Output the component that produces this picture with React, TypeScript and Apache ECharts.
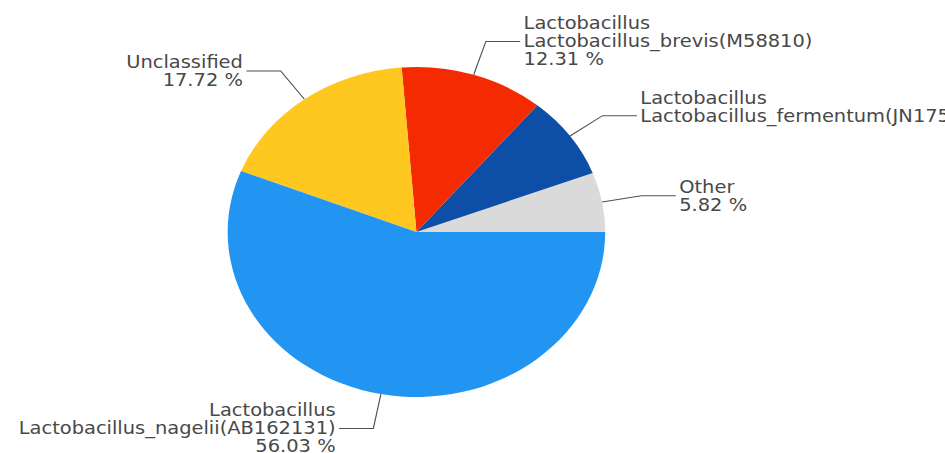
import React, { useEffect, useRef } from "react";
import * as echarts from "echarts";

// Data (order: counter-clockwise from 3 o'clock)
const genera = ["", "Lactobacillus", "Lactobacillus", "", "Lactobacillus"];
const species = [
  "Other",
  "Lactobacillus_fermentum(JN175331)",
  "Lactobacillus_brevis(M58810)",
  "Unclassified",
  "Lactobacillus_nagelii(AB162131)",
];
const percents = [5.82, 8.12, 12.31, 17.72, 56.03];
const colors = ["#DADADA", "#0D4FA6", "#F42A00", "#FFC821", "#2294F2"];
// this label's percentage line sits at the right end of a wide block, past the page edge
const pctRightAligned = [false, true, false, false, false];

const BASE_W = 826;
const BASE_H = 453;
const STRETCH = 945 / BASE_W;

export default function App() {
  const ref = useRef<HTMLDivElement>(null);
  useEffect(() => {
    if (!ref.current) return;
    const chart = echarts.init(ref.current, undefined, { renderer: "svg" });
    const txt = {
      fontFamily: "DejaVu Sans",
      fontSize: 17,
      lineHeight: 18,
      color: "#484848",
    };
    chart.setOption({
      animation: false,
      backgroundColor: "#ffffff",
      series: [
        {
          type: "pie",
          center: [364, 232],
          radius: 165,
          startAngle: 0,
          clockwise: false,
          avoidLabelOverlap: false,
          emphasis: { disabled: true },
          itemStyle: { borderWidth: 0 },
          label: {
            show: true,
            position: "outside",
            overflow: "none",
            distanceToLabelLine: 3,
            ...txt,
            formatter: (p: any) => {
              const i = p.dataIndex;
              const lines: string[] = [];
              if (genera[i]) lines.push(`{t|${genera[i]}}`);
              lines.push(`{t|${species[i]}}`);
              lines.push(`{${pctRightAligned[i] ? "r" : "t"}|${percents[i].toFixed(2)} %}`);
              return lines.join("\n");
            },
            rich: {
              t: { ...txt },
              r: { ...txt, align: "right" },
            },
          },
          labelLine: {
            show: true,
            length: 35,
            length2: 30,
            smooth: false,
            lineStyle: { color: "#505050", width: 1 },
          },
          data: species.map((s, i) => ({
            name: s,
            value: percents[i],
            itemStyle: { color: colors[i] },
            ...(pctRightAligned[i] ? { label: { width: 420, overflow: "none" } } : {}),
          })),
        },
      ],
    });
    return () => chart.dispose();
  }, []);
  return (
    <div
      style={{
        position: "absolute",
        left: 0,
        top: 0,
        width: 945,
        height: BASE_H,
        overflow: "hidden",
        background: "#fff",
      }}
    >
      <div
        ref={ref}
        style={{
          width: BASE_W,
          height: BASE_H,
          transform: `scaleX(${STRETCH})`,
          transformOrigin: "0 0",
        }}
      />
    </div>
  );
}
